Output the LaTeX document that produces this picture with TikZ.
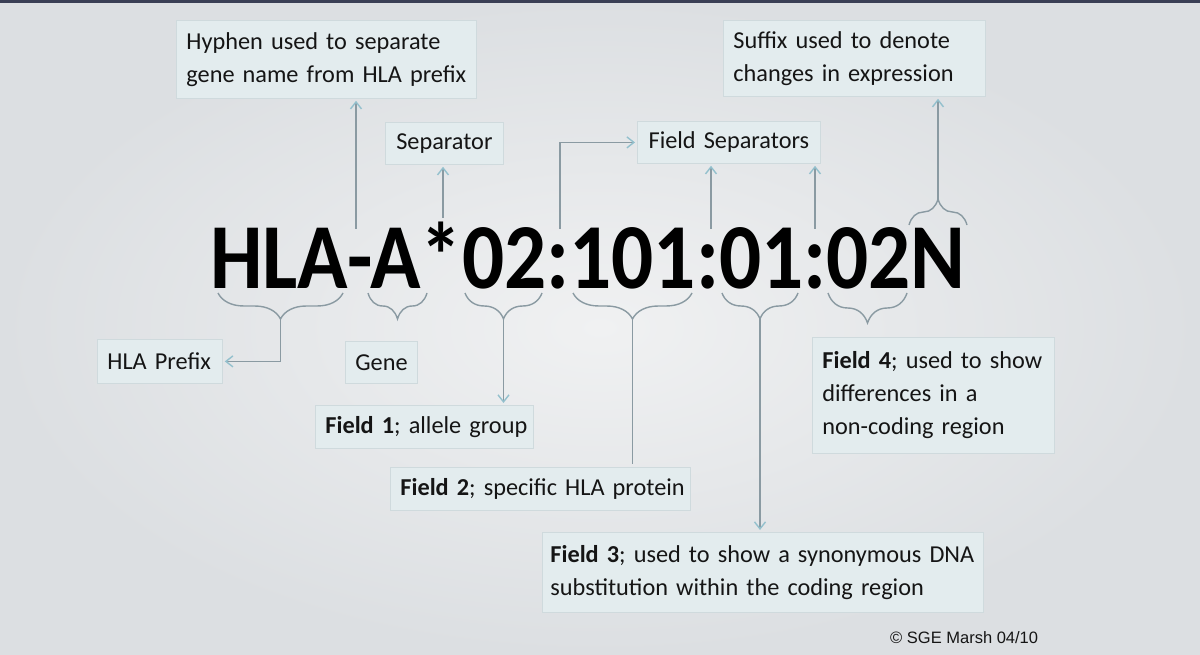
\documentclass[tikz,border=0pt]{standalone}
\usepackage{fontspec}
\setmainfont{Carlito}
\newfontfamily\arialf{Liberation Sans}
\usepackage{graphicx}
\usetikzlibrary{arrows.meta,decorations.pathreplacing,calc}
\definecolor{bgin}{HTML}{F0F1F2}
\definecolor{bgout}{HTML}{DCDFE2}
\definecolor{boxfill}{HTML}{E3ECEE}
\definecolor{boxline}{HTML}{CFDADD}
\definecolor{lineC}{HTML}{8A9AA2}
\definecolor{tipC}{HTML}{93C0CD}
\definecolor{txt}{HTML}{151515}
\definecolor{topband}{HTML}{3A3F55}
\begin{document}
\begin{tikzpicture}[x=1pt,y=-1pt,
 lbl/.style={draw=boxline,fill=boxfill,line width=0.8pt,anchor=north west,inner xsep=10pt,inner ysep=0pt,align=left,text=txt,font=\fontsize{24.3}{33}\selectfont},
 conn/.style={draw=lineC,line width=1.4pt},
 arr/.style={conn,shorten >=2pt,-{Straight Barb[length=7pt,width=11pt,line width=1.4pt,color=tipC]}},
 brc/.style={draw=lineC,line width=1.4pt,decorate,decoration={brace,amplitude=26pt}}]
\useasboundingbox (0,0) rectangle (1200,655);
\shade[inner color=bgin,outer color=bgout] (0,0) rectangle (1200,655);
\fill[topband] (0,0) rectangle (1200,3);

% main code
\node[anchor=base west,inner sep=0pt,text=black] (code) at (210,288)
  {\scalebox{0.895}[1]{\fontsize{93}{93}\selectfont\bfseries HLA-A*02:101:01:02N}};

% label boxes
\node[lbl,text width=280pt,minimum height=78pt] (hyph) at (176,20) {\mbox{Hyphen used to separate}\\\mbox{gene name from HLA prefix}};
\node[lbl,text width=98pt,minimum height=42pt,align=center] (sep) at (385,122) {\mbox{Separator}};
\node[lbl,text width=163pt,minimum height=42pt,align=center] (fsep) at (637,121) {\mbox{Field Separators}};
\node[lbl,text width=242pt,minimum height=76pt] (suffix) at (723,20) {\mbox{Suffix used to denote}\\\mbox{changes in expression}};
\node[lbl,text width=105pt,minimum height=44pt] (prefix) at (97,339) {\mbox{HLA Prefix}};
\node[lbl,text width=52pt,minimum height=42pt,align=center] (gene) at (345,341) {\mbox{Gene}};
\node[lbl,text width=198pt,minimum height=43pt] (f1) at (315,405) {\mbox{\textbf{Field 1}; allele group}};
\node[lbl,text width=280pt,minimum height=43pt] (f2) at (390,467) {\mbox{\textbf{Field 2}; specific HLA protein}};
\node[lbl,text width=425pt,minimum height=80pt,inner xsep=8pt] (f3) at (542,532) {\mbox{\textbf{Field 3}; used to show a synonymous DNA}\\\mbox{substitution within the coding region}};
\node[lbl,text width=222pt,minimum height=116pt] (f4) at (812,337) {\mbox{\textbf{Field 4}; used to show}\\\mbox{differences in a}\\\mbox{non-coding region}};

\node[anchor=west,inner sep=0pt,text=txt,font=\arialf\fontsize{16.5}{18}\selectfont] (copy) at (890,638) {\textcopyright\ SGE Marsh 04/10};

% braces below
\draw[brc] (343,293) -- (218,293) coordinate[pos=0.5] (bHLA);
\draw[brc] (427,293) -- (368,293);
\draw[brc] (542,293) -- (465,293) coordinate[pos=0.5] (bF1);
\draw[brc] (692,293) -- (573,293) coordinate[pos=0.5] (bF2);
\draw[brc] (798,293) -- (722,293) coordinate[pos=0.5] (bF3);
\draw[brc,decoration={brace,amplitude=30pt}] (907,293) -- (828,293);
% brace above N
\draw[brc] (909,225) -- (967,225) coordinate[pos=0.5] (bN);

\coordinate (tHLA) at ($(bHLA)+(0,26)$);
\coordinate (tF1) at ($(bF1)+(0,26)$);
\coordinate (tF2) at ($(bF2)+(0,26)$);
\coordinate (tF3) at ($(bF3)+(0,26)$);
\coordinate (tN) at ($(bN)+(0,-26)$);

% separator points
\coordinate (hy) at (356,229);
\coordinate (ast) at (443,218);
\coordinate (c1) at (560,229);
\coordinate (c2) at (711,229);
\coordinate (c3) at (815,229);

% connectors
\draw[arr] (hy) -- (hy |- hyph.south);
\draw[arr] (ast) -- (ast |- sep.south);
\draw[arr] (c1) |- (fsep.west);
\draw[arr] (c2) -- (c2 |- fsep.south);
\draw[arr] (c3) -- (c3 |- fsep.south);
\draw[arr] (tN) -- (tN |- suffix.south);
\draw[arr] (tHLA) |- (prefix.east);
\draw[arr] (tF1) -- (tF1 |- f1.north);
\draw[conn] (tF2) -- ($(tF2 |- f2.north)+(0,-3)$);
\draw[arr] (tF3) -- (tF3 |- f3.north);
\end{tikzpicture}
\end{document}
